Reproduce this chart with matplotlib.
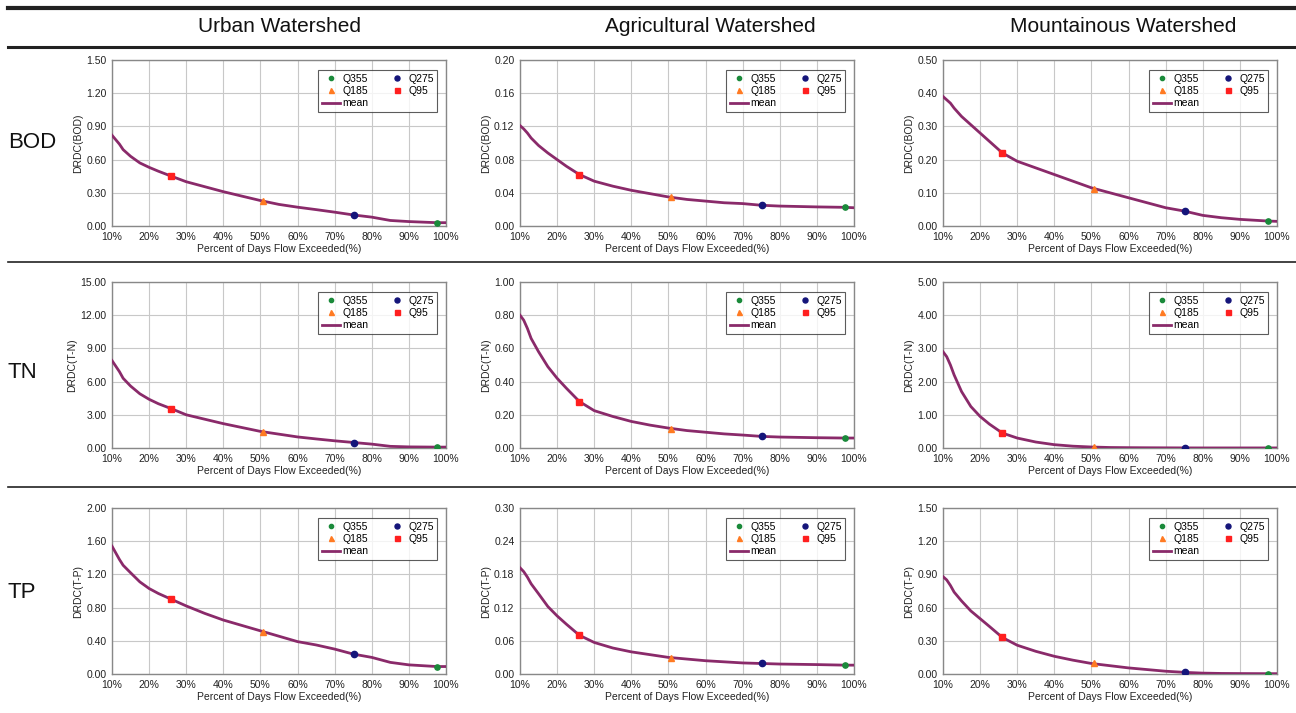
import numpy as np
import matplotlib
matplotlib.use("Agg")
import matplotlib.pyplot as plt
from matplotlib.lines import Line2D

plt.rcParams['font.family'] = ['Liberation Sans', 'DejaVu Sans']

# ---------------- data ----------------
watersheds = ["Urban Watershed", "Agricultural Watershed", "Mountainous Watershed"]
pollutants = ["BOD", "TN", "TP"]
ylabels = ["DRDC(BOD)", "DRDC(T-N)", "DRDC(T-P)"]

x_pct = [10, 11, 12, 13, 15, 17.5, 20, 22.5, 26, 30, 35, 40, 45, 50, 55, 60, 65, 70, 75, 80, 85, 90, 97.5, 100]

urban_bod = [0.82, 0.78, 0.74, 0.69, 0.63, 0.57, 0.53, 0.495, 0.45, 0.40, 0.355, 0.31, 0.27, 0.23, 0.195, 0.17, 0.148, 0.125, 0.10, 0.08, 0.05, 0.04, 0.03, 0.03]
agri_bod  = [0.121, 0.117, 0.112, 0.106, 0.097, 0.088, 0.080, 0.072, 0.062, 0.054, 0.048, 0.043, 0.039, 0.035, 0.032, 0.030, 0.028, 0.027, 0.025, 0.024, 0.0235, 0.023, 0.0225, 0.022]
mount_bod = [0.39, 0.38, 0.37, 0.355, 0.33, 0.305, 0.28, 0.255, 0.22, 0.195, 0.175, 0.155, 0.135, 0.115, 0.10, 0.085, 0.07, 0.055, 0.045, 0.032, 0.025, 0.02, 0.015, 0.014]

urban_tn = [7.9, 7.4, 6.9, 6.3, 5.6, 4.9, 4.4, 4.0, 3.55, 3.0, 2.6, 2.2, 1.85, 1.5, 1.25, 1.0, 0.82, 0.65, 0.5, 0.35, 0.15, 0.1, 0.08, 0.08]
agri_tn  = [0.80, 0.77, 0.72, 0.66, 0.58, 0.49, 0.42, 0.36, 0.28, 0.225, 0.19, 0.16, 0.138, 0.12, 0.105, 0.095, 0.085, 0.078, 0.07, 0.066, 0.064, 0.062, 0.06, 0.06]
mount_tn = [2.9, 2.75, 2.5, 2.2, 1.7, 1.25, 0.95, 0.72, 0.45, 0.3, 0.18, 0.1, 0.055, 0.03, 0.015, 0.01, 0.007, 0.005, 0.003, 0.002, 0.002, 0.002, 0.002, 0.002]

urban_tp = [1.54, 1.46, 1.38, 1.31, 1.22, 1.11, 1.03, 0.97, 0.90, 0.82, 0.73, 0.65, 0.585, 0.52, 0.455, 0.39, 0.35, 0.30, 0.24, 0.20, 0.14, 0.11, 0.09, 0.09]
agri_tp  = [0.192, 0.185, 0.175, 0.163, 0.145, 0.122, 0.105, 0.09, 0.07, 0.057, 0.047, 0.040, 0.035, 0.030, 0.027, 0.024, 0.022, 0.020, 0.019, 0.018, 0.0175, 0.017, 0.016, 0.016]
mount_tp = [0.88, 0.85, 0.80, 0.74, 0.66, 0.57, 0.50, 0.43, 0.33, 0.26, 0.205, 0.16, 0.125, 0.095, 0.075, 0.055, 0.04, 0.025, 0.015, 0.008, 0.005, 0.004, 0.003, 0.003]

curves = [[urban_bod, agri_bod, mount_bod],
          [urban_tn, agri_tn, mount_tn],
          [urban_tp, agri_tp, mount_tp]]

y_max = [[1.5, 0.2, 0.5], [15.0, 1.0, 5.0], [2.0, 0.3, 1.5]]
y_step = [[0.3, 0.04, 0.1], [3.0, 0.2, 1.0], [0.4, 0.06, 0.3]]

# flow-duration marker positions (percent of days exceeded)
q_names = ["Q95", "Q185", "Q275", "Q355"]
q_x = [26, 50.7, 75.3, 97.5]
q_y = [
    [[0.45, 0.23, 0.10, 0.03], [0.062, 0.035, 0.025, 0.0225], [0.22, 0.112, 0.045, 0.015]],
    [[3.55, 1.45, 0.48, 0.08], [0.28, 0.115, 0.07, 0.06], [0.45, 0.03, 0.003, 0.002]],
    [[0.90, 0.51, 0.24, 0.09], [0.07, 0.029, 0.019, 0.016], [0.33, 0.095, 0.015, 0.003]],
]

x_ticks = [10, 20, 30, 40, 50, 60, 70, 80, 90, 100]

# ---------------- styles ----------------
line_color = "#8a2a6a"
q_styles = {
    "Q95":  dict(marker="s", color="#ff1f1f", ms=4.5),
    "Q185": dict(marker="^", color="#ff7a22", ms=4.5),
    "Q275": dict(marker="o", color="#15157a", ms=4.5),
    "Q355": dict(marker="o", color="#1a8a3a", ms=3.8),
}

W, H = 1296, 713
fig = plt.figure(figsize=(W / 100, H / 100), dpi=100)

col_left = [112, 520, 943]
ax_w = 334
row_top = [60, 282, 508]
ax_h = 166

for r in range(3):
    for c in range(3):
        l = col_left[c] / W
        b = 1 - (row_top[r] + ax_h) / H
        ax = fig.add_axes([l, b, ax_w / W, ax_h / H])
        ax.plot(x_pct, curves[r][c], color=line_color, lw=2.0, zorder=3, label="mean")
        handles = {}
        for qi, qn in enumerate(q_names):
            st = q_styles[qn]
            h, = ax.plot([q_x[qi]], [q_y[r][c][qi]], linestyle="none", marker=st["marker"],
                         color=st["color"], ms=st["ms"], zorder=4, label=qn)
            handles[qn] = h
        mean_handle = Line2D([], [], color=line_color, lw=2.0)
        ax.set_xlim(10, 100)
        ax.set_ylim(0, y_max[r][c])
        ax.set_xticks(x_ticks)
        ax.set_xticklabels([f"{t}%" for t in x_ticks])
        yt = np.arange(0, y_max[r][c] + y_step[r][c] / 2, y_step[r][c])
        ax.set_yticks(yt)
        ax.set_yticklabels([f"{v:.2f}" for v in yt])
        ax.tick_params(labelsize=7.5, length=0, pad=4, colors="#222222")
        ax.grid(True, color="#c8c8c8", lw=0.8)
        ax.set_axisbelow(True)
        for s in ax.spines.values():
            s.set_color("#888888")
            s.set_linewidth(1.0)
        ax.set_xlabel("Percent of Days Flow Exceeded(%)", fontsize=7.5, labelpad=2, color="#222222")
        ax.set_ylabel(ylabels[r], fontsize=7.5, labelpad=2, color="#222222")
        leg = ax.legend([handles["Q355"], handles["Q185"], mean_handle, handles["Q275"], handles["Q95"]],
                        ["Q355", "Q185", "mean", "Q275", "Q95"],
                        ncol=2, loc="upper right", fontsize=7.5, frameon=True, fancybox=False,
                        edgecolor="#333333", borderpad=0.35, handlelength=1.7, handletextpad=0.25,
                        columnspacing=1.9, labelspacing=0.22, markerscale=0.8,
                        bbox_to_anchor=(0.99, 0.97))
        leg.get_frame().set_linewidth(0.8)

# headers
header_x = [279, 710, 1123]
for i, name in enumerate(watersheds):
    fig.text(header_x[i] / W, 1 - 27 / H, name, ha="center", va="center", fontsize=15, color="#111111")

row_label_y = [143, 373, 592]
for i, name in enumerate(pollutants):
    fig.text(8 / W, 1 - row_label_y[i] / H, name, ha="left", va="center", fontsize=16, color="#111111")

# rules
def hline(y, lw, x0=8):
    fig.add_artist(Line2D([x0 / W, 1], [1 - y / H, 1 - y / H], transform=fig.transFigure,
                          color="#222222", lw=lw))

hline(8, 3.0)
hline(47, 2.2)
hline(262, 1.2)
hline(487, 1.2)

fig.savefig("out.png", dpi=100)
